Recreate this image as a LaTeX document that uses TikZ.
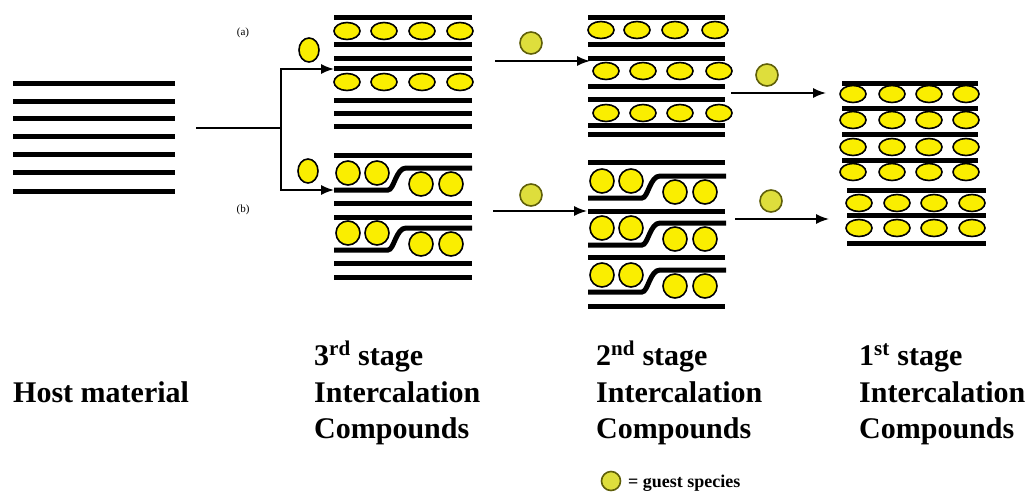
\documentclass[tikz,border=0pt]{standalone}
\usepackage{fontspec}
\setmainfont{Liberation Serif}
\usetikzlibrary{arrows.meta,shapes.geometric}
\definecolor{guestyellow}{RGB}{250,238,0}
\definecolor{guestdim}{RGB}{222,222,60}
\definecolor{guestrim}{RGB}{95,95,10}
\tikzset{
  bentlayer/.pic={
    \draw[layer] (0,0) -- (54,0) .. controls (60,0) and (62,-22) .. (72,-22) -- (138,-22);
    \node[guestc] (-l1) at (14,-17) {};
    \node[guestc] (-l2) at (43,-17) {};
    \node[guestc] (-r1) at (87,-6) {};
    \node[guestc] (-r2) at (117,-6) {};
  }
}
\begin{document}
\begin{tikzpicture}[x=1pt,y=-1pt,
    layer/.style={line width=5pt},
    guest/.style={ellipse,draw=black,line width=1.6pt,fill=guestyellow,minimum width=26pt,minimum height=17pt,inner sep=0pt},
    guestc/.style={circle,draw=black,line width=1.6pt,fill=guestyellow,minimum size=24pt,inner sep=0pt},
    freeguest/.style={ellipse,draw=black,line width=1.6pt,fill=guestyellow,minimum width=20pt,minimum height=24pt,inner sep=0pt},
    dimguest/.style={circle,draw=guestrim,line width=1.6pt,fill=guestdim,minimum size=22pt,inner sep=0pt},
    lbl/.style={anchor=base west,inner sep=0pt,font=\fontsize{30}{36}\selectfont\bfseries},
    tag/.style={inner sep=0pt,font=\fontsize{11}{12}\selectfont},
    >={Latex[length=13pt,width=10pt]}]
    \useasboundingbox (0,0) rectangle (1033,496);
    \foreach \y in {83,101,118,136,154,172,191} \draw[layer] (13,\y) -- (175,\y);
    \coordinate (hostout) at (196,128);
    \coordinate (split) at (281,128);
    \coordinate (in3a) at (334,69);
    \coordinate (in3b) at (334,190);
    \draw[line width=1.6pt] (hostout) -- (split);
    \draw[line width=1.6pt,->] (split) |- (in3a);
    \draw[line width=1.6pt,->] (split) |- (in3b);
    \node[tag] (taga) at (243,33) {(a)};
    \node[tag] (tagb) at (243,210) {(b)};
    \node[freeguest] (ga) at (309,50) {};
    \node[freeguest] (gb) at (308,171) {};
    \foreach \y in {17,44,58,68,100,113,126} \draw[layer] (334,\y) -- (472,\y);
    \foreach \y in {31,82} \foreach \x [count=\k] in {347,384,422,460} \node[guest] (s3a-\y-\k) at (\x,\y) {};
    \foreach \y in {155,203,217,263,277} \draw[layer] (334,\y) -- (472,\y);
    \pic (s3b1) at (334,190) {bentlayer};
    \pic (s3b2) at (334,250) {bentlayer};
    \coordinate (out3a) at (495,61);
    \coordinate (in2a) at (590,61);
    \coordinate (out3b) at (493,211);
    \coordinate (in2b) at (587,211);
    \draw[line width=1.6pt,->] (out3a) -- (in2a);
    \draw[line width=1.6pt,->] (out3b) -- (in2b);
    \node[dimguest] (g2a) at (531,43) {};
    \node[dimguest] (g2b) at (531,195) {};
    \foreach \y in {17,44,58,86,99,125,134} \draw[layer] (588,\y) -- (725,\y);
    \foreach \x [count=\k] in {601,637,675,715} \node[guest] (s2a-1-\k) at (\x,30) {};
    \foreach \y in {71,113} \foreach \x [count=\k] in {606,643,680,719} \node[guest] (s2a-\y-\k) at (\x,\y) {};
    \foreach \y in {162,211,257,306} \draw[layer] (588,\y) -- (725,\y);
    \pic (s2b1) at (588,198) {bentlayer};
    \pic (s2b2) at (588,245) {bentlayer};
    \pic (s2b3) at (588,292) {bentlayer};
    \coordinate (out2a) at (731,93);
    \coordinate (in1a) at (826,93);
    \coordinate (out2b) at (735,219);
    \coordinate (in1b) at (829,219);
    \draw[line width=1.6pt,->] (out2a) -- (in1a);
    \draw[line width=1.6pt,->] (out2b) -- (in1b);
    \node[dimguest] (g1a) at (767,75) {};
    \node[dimguest] (g1b) at (771,201) {};
    \foreach \y in {83,108,134,160} \draw[layer] (842,\y) -- (978,\y);
    \foreach \y in {94,120,147,172} \foreach \x [count=\k] in {853,892,929,966} \node[guest] (s1a-\y-\k) at (\x,\y) {};
    \foreach \y in {190,215,243} \draw[layer] (847,\y) -- (986,\y);
    \foreach \y in {203,228} \foreach \x [count=\k] in {859,897,934,972} \node[guest] (s1b-\y-\k) at (\x,\y) {};
    \node[lbl] (hostlbl) at (13,402) {Host material};
    \node[lbl] (s3l1) at (314,365) {3\textsuperscript{rd} stage};
    \node[lbl] (s3l2) at (314,402) {Intercalation};
    \node[lbl] (s3l3) at (314,438) {Compounds};
    \node[lbl] (s2l1) at (596,365) {2\textsuperscript{nd} stage};
    \node[lbl] (s2l2) at (596,402) {Intercalation};
    \node[lbl] (s2l3) at (596,438) {Compounds};
    \node[lbl] (s1l1) at (859,365) {1\textsuperscript{st} stage};
    \node[lbl] (s1l2) at (859,402) {Intercalation};
    \node[lbl] (s1l3) at (859,438) {Compounds};
    \node[dimguest,minimum size=19pt] (legguest) at (611,481) {};
    \node[anchor=base west,inner sep=0pt,font=\fontsize{18}{20}\selectfont\bfseries] (legtext) at (628,487) {= guest species};
\end{tikzpicture}
\end{document}
